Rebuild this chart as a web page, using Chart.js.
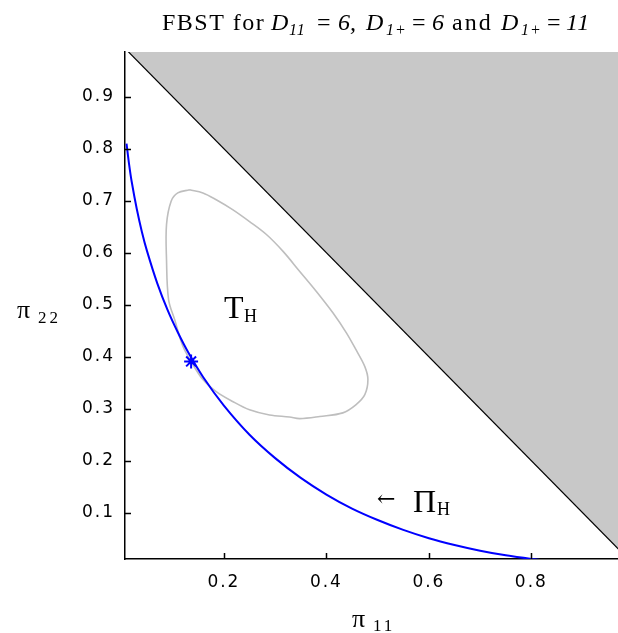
<!DOCTYPE html>
<html><head><meta charset="utf-8">
<script src="https://cdn.jsdelivr.net/npm/chart.js"></script>
<style>html,body{margin:0;padding:0;background:#fff;overflow:hidden}canvas{display:block}</style>
</head><body>
<canvas id="c" width="618" height="633"></canvas>
<script>
// ---- data ----
const xTicks = [0.2, 0.4, 0.6, 0.8];
const yTicks = [0.1, 0.2, 0.3, 0.4, 0.5, 0.6, 0.7, 0.8, 0.9];
const xRange = [0.007, 0.969];
const yRange = [0.011, 0.986];

// simplex boundary pi11 + pi22 = 1 (shaded region above it)
const simplexX = [0, 1];
const simplexY = [1, 0];

// hypothesis curve Pi_H (blue)
const hypX = [0.01, 0.015, 0.02, 0.03, 0.04, 0.05, 0.07, 0.09, 0.11, 0.13, 0.16, 0.2, 0.25, 0.3, 0.35, 0.4, 0.45, 0.5, 0.55, 0.6, 0.65, 0.7, 0.75, 0.8, 0.82];
const hypY = [0.81, 0.77, 0.737, 0.684, 0.64, 0.603, 0.541, 0.49, 0.447, 0.409, 0.36, 0.306, 0.25, 0.205, 0.167, 0.135, 0.108, 0.086, 0.067, 0.051, 0.038, 0.027, 0.018, 0.011, 0.009];

// HPD set boundary T_H (grey closed curve)
const hpdX = [0.133, 0.159, 0.185, 0.217, 0.25, 0.283, 0.315, 0.348, 0.38, 0.413, 0.439, 0.458, 0.475, 0.481, 0.475, 0.458, 0.432, 0.387, 0.348, 0.328, 0.289, 0.25, 0.217, 0.185, 0.159, 0.136, 0.12, 0.104, 0.092, 0.088, 0.088, 0.097, 0.11, 0.133];
const hpdY = [0.721, 0.715, 0.702, 0.683, 0.66, 0.635, 0.603, 0.564, 0.526, 0.484, 0.446, 0.413, 0.381, 0.356, 0.327, 0.308, 0.292, 0.285, 0.281, 0.284, 0.288, 0.298, 0.314, 0.333, 0.356, 0.391, 0.42, 0.471, 0.51, 0.587, 0.654, 0.699, 0.715, 0.721];

// tangent point (star)
const starX = [0.136];
const starY = [0.391];

const pts = (xs, ys) => xs.map((x, i) => ({x, y: ys[i]}));

// ---- plugins ----
const spacing = {
  id: 'spacing',
  beforeDraw(chart) { chart.ctx.letterSpacing = '2px'; },
  beforeDatasetsDraw(chart) { chart.ctx.letterSpacing = '0px'; }
};

const inwardTicks = {
  id: 'inwardTicks',
  afterDatasetsDraw(chart) {
    const ctx = chart.ctx, a = chart.chartArea;
    const xs = chart.scales.x, ys = chart.scales.y;
    ctx.save();
    ctx.strokeStyle = '#000';
    ctx.lineWidth = 1.5;
    ctx.beginPath();
    xs.ticks.forEach(t => { const p = Math.round(xs.getPixelForValue(t.value)) + 0.5; ctx.moveTo(p, a.bottom); ctx.lineTo(p, a.bottom - 6); });
    ys.ticks.forEach(t => { const p = Math.round(ys.getPixelForValue(t.value)) + 0.5; ctx.moveTo(a.left, p); ctx.lineTo(a.left + 6, p); });
    ctx.stroke();
    ctx.restore();
  }
};

// each run: text, font, x position (absolute), baseline offset, letter spacing
function place(ctx, base, list) {
  list.forEach(r => {
    ctx.font = r.f;
    ctx.letterSpacing = r.ls || '0px';
    ctx.fillText(r.t, r.x, base + (r.dy || 0));
  });
  ctx.letterSpacing = '0px';
}

const texts = {
  id: 'texts',
  afterDraw(chart) {
    const ctx = chart.ctx;
    ctx.save();
    ctx.fillStyle = '#000';
    ctx.textBaseline = 'alphabetic';
    ctx.textAlign = 'left';
    const S = '"Liberation Serif", "Times New Roman", serif';
    const N = '24px ' + S, I = 'italic 24px ' + S, SI = 'italic 16px ' + S;
    // title
    place(ctx, 30, [
      {t: 'FBST for', f: N, x: 162, ls: '1.5px'},
      {t: 'D', f: I, x: 271},
      {t: '11', f: SI, x: 289, dy: 5, ls: '1px'},
      {t: '=', f: N, x: 317},
      {t: '6,', f: I, x: 338},
      {t: 'D', f: I, x: 366},
      {t: '1+', f: SI, x: 386, dy: 5, ls: '1px'},
      {t: '=', f: N, x: 412},
      {t: '6', f: I, x: 432},
      {t: 'and', f: N, x: 452, ls: '2px'},
      {t: 'D', f: I, x: 501},
      {t: '1+', f: SI, x: 521, dy: 5, ls: '1px'},
      {t: '=', f: N, x: 547},
      {t: '11', f: I, x: 566, ls: '1px'}
    ]);
    // T_H
    place(ctx, 318, [
      {t: 'T', f: '32px ' + S, x: 224},
      {t: 'H', f: '18px ' + S, x: 244, dy: 4}
    ]);
    // arrow Pi_H
    place(ctx, 506, [{t: '\u2190', f: '22px "DejaVu Serif", serif', x: 377}]);
    place(ctx, 512, [
      {t: '\u03A0', f: '32px ' + S, x: 413},
      {t: 'H', f: '18px ' + S, x: 437, dy: 3}
    ]);
    // axis titles
    place(ctx, 627, [{t: '\u03C0', f: '26px ' + S, x: 352}]);
    place(ctx, 631, [{t: '11', f: '17px ' + S, x: 373, ls: '3px'}]);
    place(ctx, 318, [{t: '\u03C0', f: '26px ' + S, x: 17}]);
    place(ctx, 323, [{t: '22', f: '17px ' + S, x: 38, ls: '3px'}]);
    ctx.restore();
  }
};

const tickFont = {family: '"DejaVu Sans", Verdana, sans-serif', size: 17};

new Chart(document.getElementById('c'), {
  type: 'scatter',
  data: {
    datasets: [
      {
        label: 'star', data: pts(starX, starY), showLine: false,
        pointStyle: 'star', pointRadius: 7, borderColor: '#0000ff', borderWidth: 2,
        backgroundColor: '#0000ff'
      },
      {
        label: 'Pi_H', data: pts(hypX, hypY), showLine: true, fill: false,
        borderColor: '#0000ff', borderWidth: 2, pointRadius: 0, tension: 0.3
      },
      {
        label: 'T_H', data: pts(hpdX, hpdY), showLine: true, fill: false,
        borderColor: '#bebebe', borderWidth: 1.6, pointRadius: 0, tension: 0.35
      },
      {
        label: 'simplex', data: pts(simplexX, simplexY), showLine: true, fill: 'end',
        borderColor: '#000', borderWidth: 1.2, backgroundColor: '#c8c8c8', pointRadius: 0
      }
    ]
  },
  options: {
    responsive: false,
    animation: false,
    devicePixelRatio: 1,
    layout: {autoPadding: false, padding: {top: 52, right: 0, left: 0, bottom: 0}},
    plugins: {legend: {display: false}, tooltip: {enabled: false}, title: {display: false}},
    scales: {
      x: {
        type: 'linear', min: xRange[0], max: xRange[1],
        afterBuildTicks: s => { s.ticks = xTicks.map(v => ({value: v})); },
        afterFit: s => { s.height = 74; s.paddingLeft = 0; s.paddingRight = 0; },
        grid: {display: true, drawOnChartArea: false, drawTicks: false},
        border: {display: true, color: '#000', width: 1.5},
        ticks: {font: tickFont, color: '#000', padding: 13, maxRotation: 0, callback: v => v.toFixed(1)}
      },
      y: {
        type: 'linear', min: yRange[0], max: yRange[1],
        afterBuildTicks: s => { s.ticks = yTicks.map(v => ({value: v})); },
        afterFit: s => { s.width = 125; s.paddingTop = 0; s.paddingBottom = 0; },
        grid: {display: true, drawOnChartArea: false, drawTicks: false},
        border: {display: true, color: '#000', width: 1.5},
        ticks: {font: tickFont, color: '#000', padding: 10, callback: v => v.toFixed(1)}
      }
    }
  },
  plugins: [spacing, inwardTicks, texts]
});
</script>
</body></html>
